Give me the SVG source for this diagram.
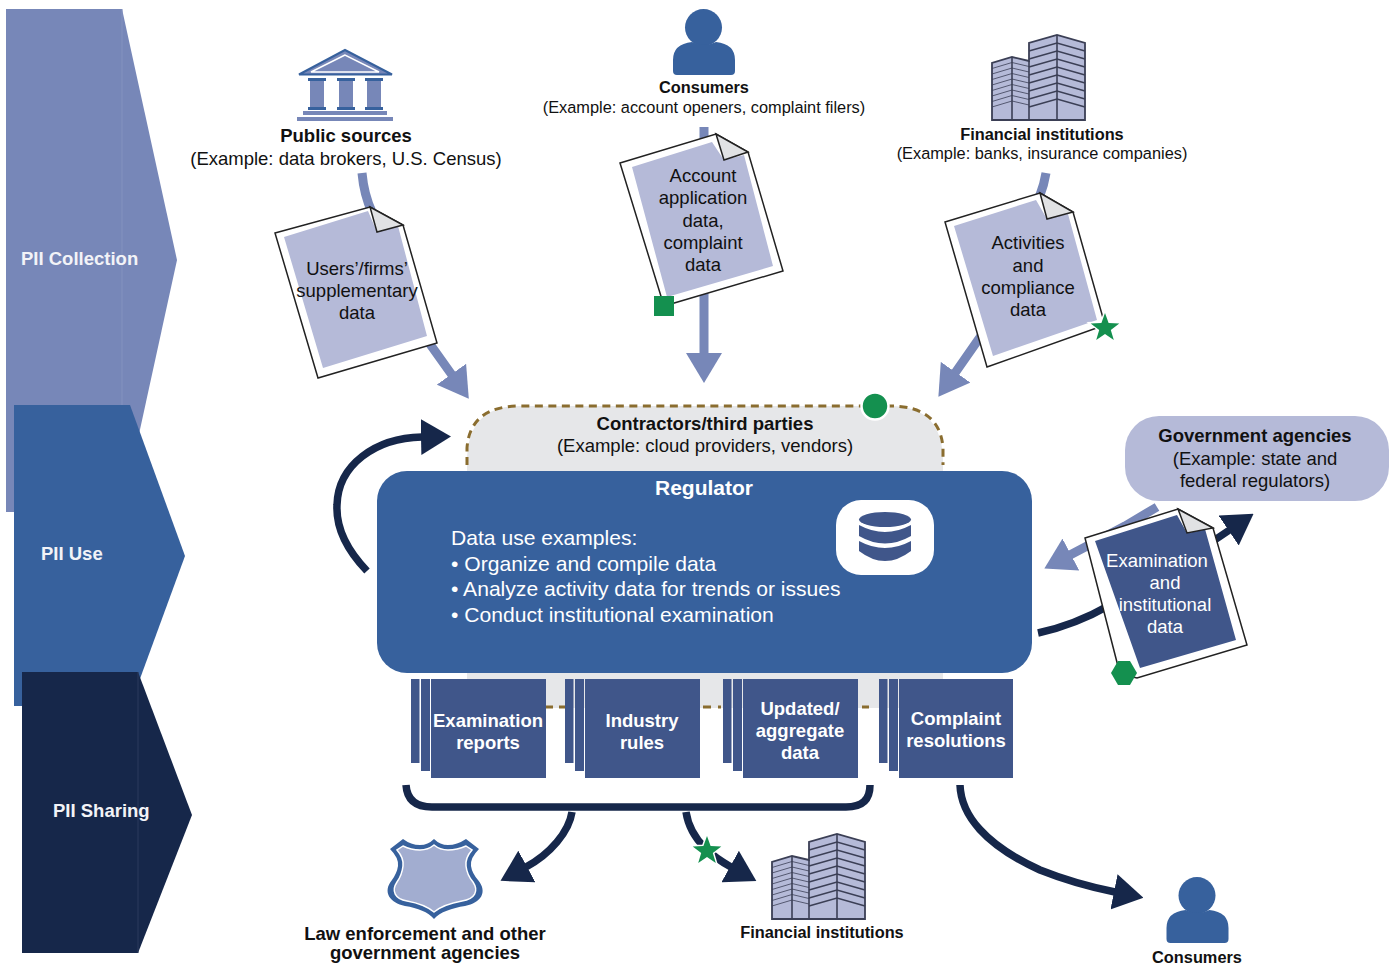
<svg xmlns="http://www.w3.org/2000/svg" xmlns:xlink="http://www.w3.org/1999/xlink" width="1392" height="969" viewBox="0 0 1392 969">
<style>
text{font-family:"Liberation Sans",Arial,sans-serif;fill:#111;text-anchor:middle}
.b{font-weight:bold}
.w{fill:#fff}
.s18{font-size:18.5px}
.s16{font-size:16.35px}
.lab{font-size:18.5px;font-weight:bold;fill:#f2f3f7;text-anchor:start}
.reg{font-size:21.1px;fill:#fff;text-anchor:start}
.box{font-size:18.5px;font-weight:bold;fill:#fff}
.page{fill:#fff;stroke:#222;stroke-width:1.5}
.fold{fill:#e1e2e4;stroke:#222;stroke-width:1.5}
.in1{fill:#b5bad8}
.in2{fill:#40568a}
.lt{fill:none;stroke:#7787b8;stroke-width:9}
.dk{fill:none;stroke:#16274a;stroke-width:7.5}
.green{fill:#14904f}
.halo{stroke:#fff;stroke-width:3;paint-order:stroke}
.stack{fill:#40568a}
.bw{fill:#b5bad8;stroke:#3b3f55;stroke-width:1.8}
.bl{fill:none;stroke:#3b3f55;stroke-width:1.6}
.bt{fill:none;stroke:#3b3f55;stroke-width:.8}
.person{fill:#37619d}
.dash{fill:none;stroke:#8a6d2f;stroke-width:3}
.disk{fill:#40568a}
</style>
<defs>
<marker id="hl" viewBox="0 0 30 36" refX="1" refY="18" markerWidth="30" markerHeight="36" markerUnits="userSpaceOnUse" orient="auto"><path d="M0 0L30 18L0 36Z" fill="#7787b8"/></marker>
<marker id="hd" viewBox="0 0 30 36" refX="1" refY="18" markerWidth="30" markerHeight="36" markerUnits="userSpaceOnUse" orient="auto"><path d="M0 0L30 18L0 36Z" fill="#16274a"/></marker>
<polygon id="star" points="0,-15 3.6,-4.9 14.3,-4.6 5.8,1.9 8.8,12.1 0,6 -8.8,12.1 -5.8,1.9 -14.3,-4.6 -3.6,-4.9"/>
<g id="building">
<path class="bw" d="M992 120V63L1012 57L1029 61V43L1057 35L1085 43V120Z"/>
<path class="bl" d="M1012 57V120M1029 61V120M1057 35V120"/>
<path class="bt" d="M992 68.5L1012 62.5L1029 66.5M992 74L1012 68L1029 72M992 79.500L1012 73.500L1029 77.500M992 85L1012 79L1029 83M992 90.500L1012 84.500L1029 88.500M992 96L1012 90L1029 94M992 101.500L1012 95.500L1029 99.500M992 107L1012 101L1029 105"/>
<path class="bl" d="M1029 51L1057 43L1085 51M1029 59L1057 51L1085 59M1029 67L1057 59L1085 67M1029 75L1057 67L1085 75M1029 83L1057 75L1085 83M1029 91L1057 83L1085 91M1029 99L1057 91L1085 99M1029 107L1057 99L1085 107"/>
</g>
<g id="personIcon">
<circle class="person" cx="703.500" cy="27.500" r="18.500"/>
<path class="person" d="M673 71V60Q673 44 692 42Q704 48 716 42Q735 44 735 60V71Q735 75 731 75H677Q673 75 673 71Z"/>
</g>
</defs>
<rect width="1392" height="969" fill="#fff"/>

<g id="pii-collection">
<polygon points="6,9 122,9 177,260 122,512 6,512" fill="#7787b8"/>
<line x1="122" y1="9" x2="122" y2="512" stroke="#8492bf" stroke-width="1"/>
<text class="lab" x="21" y="265">PII Collection</text>
</g>
<g id="pii-use">
<polygon points="14,405 130,405 185,556 130,706 14,706" fill="#37619d"/>
<text class="lab" x="41" y="560">PII Use</text>
</g>
<g id="pii-sharing">
<polygon points="22,672 138,672 192,815 138,953 22,953" fill="#16274a"/>
<line x1="138" y1="672" x2="138" y2="953" stroke="#2a3a5c" stroke-width="1"/>
<text class="lab" x="53" y="817">PII Sharing</text>
</g>

<g id="contractors">
<path d="M467 708V462Q467 406 520 406H890Q943 406 943 462V708Z" fill="#e6e7e9"/>
<path class="dash" stroke-dasharray="8 5.500" d="M467 465V448Q470 406 520 406H890Q940 406 943 448V465"/>
<path class="dash" d="M546 707H553M559 707H565M703 707H711M718 707H721M862 707H869"/>
<text class="b s18" x="705" y="430">Contractors/third parties</text>
<text class="s18" x="705" y="452">(Example: cloud providers, vendors)</text>
<circle class="green" cx="875" cy="406" r="13.500" stroke="#fff" stroke-width="2.500"/>
</g>

<g id="connectors">
<path class="lt" marker-end="url(#hl)" d="M362 173Q364 195 372 212L420 330L452 375"/>
<path class="lt" marker-end="url(#hl)" d="M704 127V354"/>
<path class="lt" marker-end="url(#hl)" d="M1046 173Q1044 185 1040 195L985 330L955 373"/>
<path class="lt" marker-end="url(#hl)" d="M1157 507L1125 526L1070 555"/>
<path class="dk" marker-end="url(#hd)" d="M1038 633Q1075 625 1110 605L1170 570L1229.500 530"/>
<path class="dk" marker-end="url(#hd)" d="M367 571C345 548 336 525 337 505C338 465 375 438 422 437"/>
<path class="dk" d="M406 785C407 800 416 807 432 807H846C862 807 870 800 870 785"/>
<path class="dk" marker-end="url(#hd)" d="M572 812C569 832 550 854 526 867"/>
<path class="dk" marker-end="url(#hd)" d="M686 812C688 825 695 838 705 848C712 855 722 862 731 867"/>
<path class="dk" marker-end="url(#hd)" d="M960 785C961 815 985 845 1040 870C1065 880 1090 887 1115 892"/>
</g>

<g id="regulator">
<rect x="377" y="471" width="655" height="202" rx="30" fill="#37619d"/>
<text class="b w" x="704" y="495" font-size="21">Regulator</text>
<text class="reg" x="451" y="545">Data use examples:</text>
<text class="reg" x="451" y="571">• Organize and compile data</text>
<text class="reg" x="451" y="596">• Analyze activity data for trends or issues</text>
<text class="reg" x="451" y="622">• Conduct institutional examination</text>
<rect x="836" y="500" width="98" height="75" rx="25" fill="#fff"/>
<ellipse class="disk" cx="885" cy="519.500" rx="26" ry="7.500"/>
<path class="disk" d="M859 525Q885 539 911 525V536Q885 551 859 536Z"/>
<path class="disk" d="M859 541Q885 555 911 541V551Q885 571 859 551Z"/>
</g>

<g id="examination-reports">
<rect class="stack" x="411" y="679" width="8.500" height="84"/>
<rect class="stack" x="421" y="679" width="9" height="92"/>
<rect class="stack" x="431" y="679" width="115" height="99"/>
<text class="box" x="488" y="727">Examination</text>
<text class="box" x="488" y="749">reports</text>
</g>
<g id="industry-rules">
<rect class="stack" x="565" y="679" width="8.500" height="84"/>
<rect class="stack" x="575" y="679" width="9" height="92"/>
<rect class="stack" x="585" y="679" width="115" height="99"/>
<text class="box" x="642" y="727">Industry</text>
<text class="box" x="642" y="749">rules</text>
</g>
<g id="aggregate-data">
<rect class="stack" x="723" y="679" width="8.500" height="84"/>
<rect class="stack" x="733" y="679" width="9" height="92"/>
<rect class="stack" x="743" y="679" width="115" height="99"/>
<text class="box" x="800" y="715">Updated/</text>
<text class="box" x="800" y="737">aggregate</text>
<text class="box" x="800" y="759">data</text>
</g>
<g id="complaint-resolutions">
<rect class="stack" x="879" y="679" width="8.500" height="84"/>
<rect class="stack" x="889" y="679" width="9" height="92"/>
<rect class="stack" x="899" y="679" width="114" height="99"/>
<text class="box" x="956" y="725">Complaint</text>
<text class="box" x="956" y="747">resolutions</text>
</g>

<g id="public-sources">
<polygon points="345,50 299,74.500 392,74.500" fill="#7787b8" stroke="#37619d" stroke-width="2"/>
<polygon points="345,55 311,72 379,72" fill="#7787b8" stroke="#fff" stroke-width="1.500"/>
<path fill="#7787b8" d="M310 79H324V110H310ZM339 79H353V110H339ZM367 79H381V110H367Z"/>
<path fill="#37619d" d="M308 78H326V81H308ZM337 78H355V81H337ZM365 78H383V81H365ZM308 107H326V110H308ZM337 107H355V110H337ZM365 107H383V110H365Z"/>
<path fill="#7787b8" d="M303 111H387V115H303ZM297 117H393V121H297Z"/>
<text class="b s18" x="346" y="142">Public sources</text>
<text class="s18" x="346" y="165">(Example: data brokers, U.S. Census)</text>
</g>
<g id="consumers-top">
<use href="#personIcon"/>
<text class="b s16" x="704" y="93">Consumers</text>
<text class="s16" x="704" y="113">(Example: account openers, complaint filers)</text>
</g>
<g id="financial-top">
<use href="#building"/>
<text class="b s16" x="1042" y="140">Financial institutions</text>
<text class="s16" x="1042" y="159">(Example: banks, insurance companies)</text>
</g>

<g id="doc-users">
<polygon class="page" points="275,233 370,207 403,225 437,343 318,378"/>
<polygon class="in1" points="284,237 368,211 377,232 398,226 427,336 323,368"/>
<polygon class="fold" points="370,207 403,225 377,232"/>
<text class="s18" x="357" y="275">Users’/firms’</text>
<text class="s18" x="357" y="297">supplementary</text>
<text class="s18" x="357" y="319">data</text>
</g>
<g id="doc-account">
<polygon class="page" points="620,163 716,134 748,152 783,271 664,306"/>
<polygon class="in1" points="632,167 712,142 724,160 744,155 773,266 667,297"/>
<polygon class="fold" points="716,134 748,152 724,160"/>
<text class="s18" x="703" y="182">Account</text>
<text class="s18" x="703" y="204">application</text>
<text class="s18" x="703" y="227">data,</text>
<text class="s18" x="703" y="249">complaint</text>
<text class="s18" x="703" y="271">data</text>
<rect class="green" x="654" y="296" width="20" height="20"/>
</g>
<g id="doc-activities">
<polygon class="page" points="945,222 1040,193 1073,212 1105,325 987,367"/>
<polygon class="in1" points="954,226 1036,200 1047,219 1068,214 1097,320 993,356"/>
<polygon class="fold" points="1040,193 1073,212 1047,219"/>
<text class="s18" x="1028" y="249">Activities</text>
<text class="s18" x="1028" y="272">and</text>
<text class="s18" x="1028" y="294">compliance</text>
<text class="s18" x="1028" y="316">data</text>
<use href="#star" class="green halo" x="1105" y="328"/>
</g>
<g id="government-agencies">
<rect x="1125" y="416" width="264" height="85" rx="34" fill="#b5bad8"/>
<text class="b s18" x="1255" y="442">Government agencies</text>
<text class="s18" x="1255" y="465">(Example: state and</text>
<text class="s18" x="1255" y="487">federal regulators)</text>
</g>
<g id="doc-examination">
<polygon class="page" points="1085,538 1178,509 1213,528 1247,645 1137,678 1120,674"/>
<polygon class="in2" points="1095,541 1177,515 1187,533 1205,529 1236,640 1140,668"/>
<polygon class="fold" points="1178,509 1213,528 1187,533"/>
<text class="s18 w" x="1157" y="567">Examination</text>
<text class="s18 w" x="1165" y="589">and</text>
<text class="s18 w" x="1165" y="611">institutional</text>
<text class="s18 w" x="1165" y="633">data</text>
<polygon class="green" points="1111,673 1118,661 1130,661 1137,673 1130,685 1118,685"/>
</g>
<g id="law-enforcement">
<path fill="#37619d" d="M434 839Q428 845 420 845Q411 845 403 839L390 849Q399 858 398 866Q397 873 392 880C382 892 390 903 405 906C418 908 428 912 434 919C440 912 452 908 465 906C481 903 488 892 478 880Q472 873 471 866Q470 858 479 849L466 839Q457 845 448 845Q440 845 434 839Z"/>
<path fill="#a2add0" stroke="#fff" stroke-width="1.500" d="M434 845Q428 850 420 850Q411 850 403 846L397 850Q404 858 403 866Q402 875 397 882C391 891 395 899 407 901C418 903 428 907 434 912C440 907 451 903 462 901C475 899 479 891 473 882Q467 875 466 866Q465 858 472 850L466 846Q457 850 448 850Q440 850 434 845Z"/>
<text class="b s18" x="425" y="940">Law enforcement and other</text>
<text class="b s18" x="425" y="959">government agencies</text>
</g>
<g id="financial-bottom">
<use href="#building" x="-220" y="799"/>
<text class="b s16" x="822" y="938">Financial institutions</text>
<use href="#star" class="green halo" x="707" y="851"/>
</g>
<g id="consumers-bottom">
<use href="#personIcon" x="493.500" y="868"/>
<text class="b s16" x="1197" y="963">Consumers</text>
</g>
</svg>
